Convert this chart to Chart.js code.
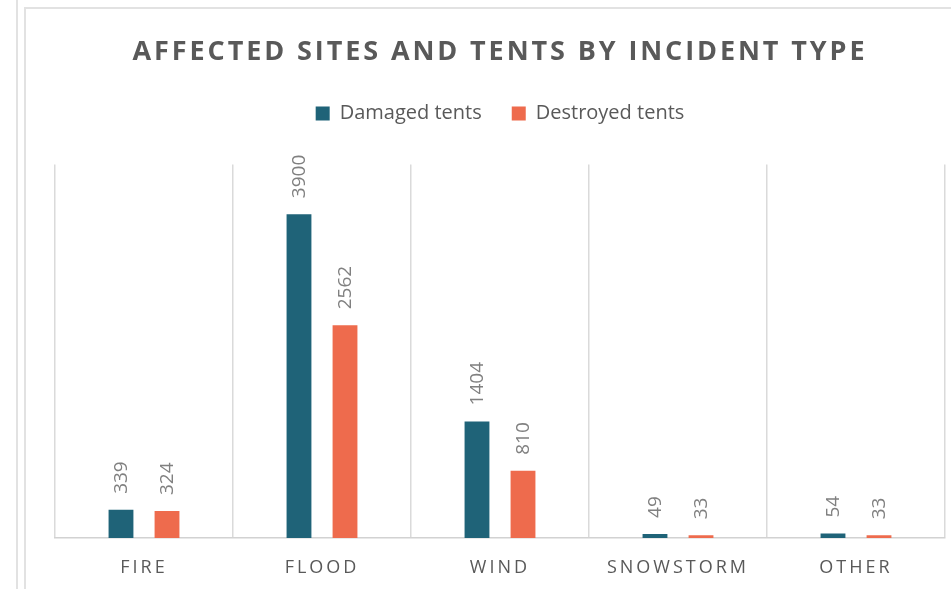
<!DOCTYPE html>
<html lang="en">
<head>
    <meta charset="UTF-8">
    <title>affected_sites</title>
    <script src="https://cdn.jsdelivr.net/npm/chart.js@4.4.0/dist/chart.umd.min.js"></script>
    <style>
        *{margin:0; padding:0;}
        body{width:951px; height:589px; overflow:hidden; background:#fff; position:relative;}
        .side_line{position:absolute; left:16px; top:0; width:2px; height:100%; background:#e2e2e2;}
        .frame{position:absolute; left:24px; top:7px; right:-10px; bottom:-10px; border-left:2px solid #e2e2e2; border-top:2px solid #e2e2e2;}
        #wrap{position:absolute; left:0; top:0; width:951px; height:589px;}
    </style>
</head>
<body>
    <div class="side_line"></div>
    <div class="frame"></div>
    <div id="wrap">
        <canvas id="barChart"></canvas>
    </div>

    <script>
        const types = ['FIRE', 'FLOOD', 'WIND', 'SNOWSTORM', 'OTHER']
        const damaged = [339, 3900, 1404, 49, 54]
        const destroyed = [324, 2562, 810, 33, 33]
        const yMax = 4500

        const grey = '#595959'

        // letter spaced title + x labels, extra room under the legend
        const spacedText = {
            id:'spacedText',
            beforeInit:function(chart){
                const fit = chart.legend.fit
                chart.legend.fit = function(){
                    fit.call(this)
                    this.height += 31
                }
            },
            afterLayout:function(chart){
                if(chart.$spaced) return
                chart.$spaced = true

                const title = chart.titleBlock
                const drawTitle = title.draw
                title.draw = function(){
                    const c = this.ctx
                    c.save()
                    c.letterSpacing = '2.9px'
                    drawTitle.apply(this, arguments)
                    c.restore()
                }

                const x = chart.scales.x
                const drawLabels = x.drawLabels
                x.drawLabels = function(area){
                    const c = this.ctx
                    c.save()
                    c.letterSpacing = '3px'
                    drawLabels.call(this, area)
                    c.restore()
                }
            }
        }

        // rotated value labels above bars
        const valueLabels = {
            id:'valueLabels',
            afterDatasetsDraw:function(chart){
                const ctx = chart.ctx
                chart.data.datasets.forEach(function(dataset, i){
                    const meta = chart.getDatasetMeta(i)
                    if(meta.hidden) return
                    meta.data.forEach(function(bar, index){
                        ctx.save()
                        ctx.translate(bar.x, bar.y - 16)
                        ctx.rotate(-Math.PI / 2)
                        ctx.font = '19px "Open Sans"'
                        ctx.fillStyle = '#808080'
                        ctx.textAlign = 'left'
                        ctx.textBaseline = 'middle'
                        ctx.fillText(String(dataset.data[index]), 0, 1)
                        ctx.restore()
                    })
                })
            }
        }

        const config = {
            type:'bar',
            data:{
                labels:types,
                datasets:[
                    {
                        label:'Damaged tents',
                        data:damaged,
                        backgroundColor:'#1f6378',
                        categoryPercentage:0.517,
                        barPercentage:0.54
                    },
                    {
                        label:'Destroyed tents',
                        data:destroyed,
                        backgroundColor:'#ee6b4d',
                        categoryPercentage:0.517,
                        barPercentage:0.54
                    }
                ]
            },
            options:{
                responsive:true,
                maintainAspectRatio:false,
                animation:false,
                layout:{
                    padding:{left:55, right:6, top:0, bottom:0}
                },
                plugins:{
                    title:{
                        display:true,
                        text:'AFFECTED SITES AND TENTS BY INCIDENT TYPE',
                        color:grey,
                        font:{family:'"Open Sans"', size:27, weight:'bold'},
                        padding:{top:36, bottom:5}
                    },
                    legend:{
                        display:true,
                        labels:{
                            color:grey,
                            font:{family:'"Open Sans"', size:20},
                            boxWidth:14,
                            boxHeight:14,
                            padding:30
                        }
                    },
                    tooltip:{enabled:false}
                },
                scales:{
                    x:{
                        afterFit:function(scale){
                            scale.height = 51
                        },
                        grid:{
                            display:true,
                            offset:true,
                            color:'#dadada',
                            lineWidth:1.5,
                            drawTicks:false
                        },
                        border:{display:true, color:'#d2d2d2', width:1.5},
                        ticks:{
                            color:grey,
                            font:{family:'"Open Sans"', size:18},
                            padding:19
                        }
                    },
                    y:{
                        display:false,
                        min:0,
                        max:yMax
                    }
                }
            },
            plugins:[spacedText, valueLabels]
        }

        const ctx = document.querySelector('#barChart').getContext('2d')
        let barChart = new Chart(ctx, config)
    </script>
</body>
</html>
